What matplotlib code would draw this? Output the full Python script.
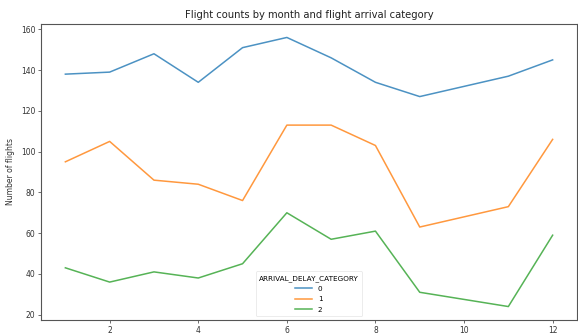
import matplotlib
matplotlib.use("Agg")
import matplotlib.pyplot as plt

months = [1, 2, 3, 4, 5, 6, 7, 8, 9, 11, 12]
cat0 = [138, 139, 148, 134, 151, 156, 146, 134, 127, 137, 145]
cat1 = [95, 105, 86, 84, 76, 113, 113, 103, 63, 73, 106]
cat2 = [43, 36, 41, 38, 45, 70, 57, 61, 31, 24, 59]
categories = ["0", "1", "2"]
series = [cat0, cat1, cat2]
colors = ["#1f77b4", "#ff7f0e", "#2ca02c"]

fig = plt.figure(figsize=(5.78, 3.36), dpi=100)
ax = fig.add_axes([41/578, 1-320/336, (577-41)/578, (320-24)/336])

for name, vals, c in zip(categories, series, colors):
    ax.plot(months, vals, color=c, lw=1.1, alpha=0.8, label=name)

ax.set_title("Flight counts by month and flight arrival category", fontsize=7.2, color="#222222", pad=4)
ax.set_ylabel("Number of flights", fontsize=5.5, color="#333333", labelpad=4)
ax.set_xlabel("Month", fontsize=5.5, color="#333333")
ax.set_yticks([20, 40, 60, 80, 100, 120, 140, 160])
ax.set_xticks([2, 4, 6, 8, 10, 12])
ax.tick_params(labelsize=5.5, colors="#333333", length=2, width=0.5, pad=2)
for s in ax.spines.values():
    s.set_color("#555555")
    s.set_linewidth(0.8)

leg = ax.legend(title="ARRIVAL_DELAY_CATEGORY", loc="lower center", fontsize=5.2,
                title_fontsize=5.2, framealpha=0.8, edgecolor="#dddddd",
                handlelength=2.3, borderpad=0.5, labelspacing=0.6)
leg.get_frame().set_linewidth(0.5)

fig.savefig("out.png", dpi=100)
